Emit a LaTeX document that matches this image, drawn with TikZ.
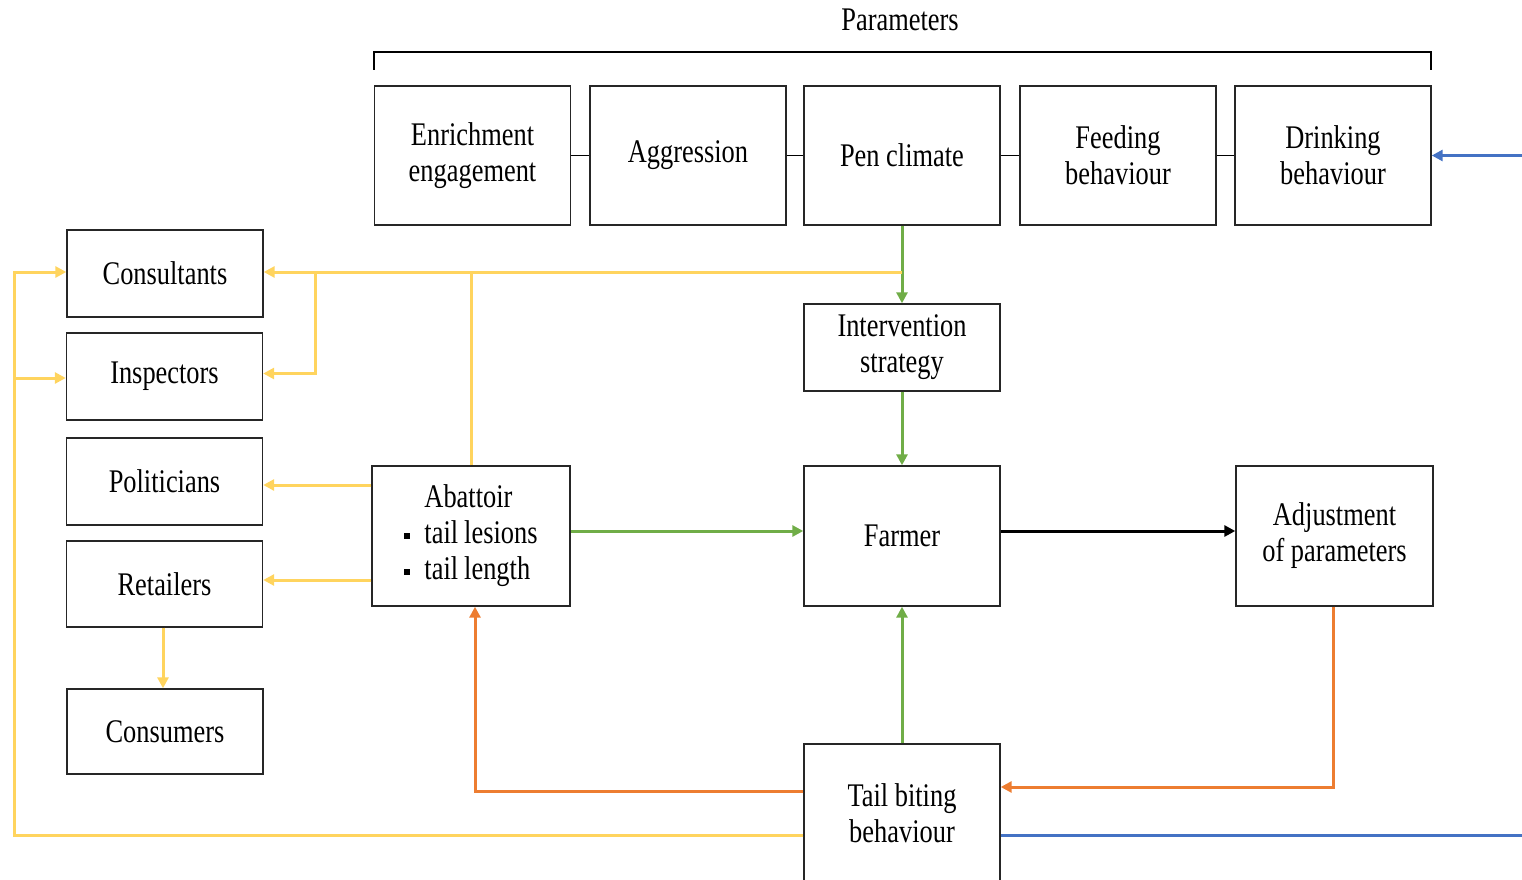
\documentclass[tikz,border=0pt]{standalone}
\usepackage{fontspec}
\setmainfont{Liberation Serif}[FakeStretch=0.8]
\usetikzlibrary{arrows.meta}
\definecolor{cyel}{HTML}{FFD45E}
\definecolor{cgrn}{HTML}{70AD47}
\definecolor{corg}{HTML}{ED7D31}
\definecolor{cblu}{HTML}{4472C4}
\tikzset{
  box/.style={draw=black!85, line width=1.4pt, minimum width=196pt, inner sep=0pt, align=center, fill=white},
  arr/.style={-{Triangle[length=11pt,width=11pt]}},
  yel/.style={draw=cyel, line width=3pt},
  grn/.style={draw=cgrn, line width=3pt},
  org/.style={draw=corg, line width=3pt},
  blu/.style={draw=cblu, line width=3pt},
  blk/.style={draw=black, line width=3pt},
  thinlink/.style={draw=black, line width=1.4pt},
}
\begin{document}
\begin{tikzpicture}[x=1pt,y=-1pt,font=\fontsize{33}{36}\selectfont]
\useasboundingbox (0,0) rectangle (1522,880);
\clip (0,0) rectangle (1522,880);

% title and bracket
\node (par) at (900,20) {Parameters};
\draw[thinlink] (374,70) -- (374,52) -- (1431,52) -- (1431,70);

% top row
\node[box, minimum height=139pt] (enr) at (472.5,155.5) {Enrichment\\engagement};
\node[box, minimum height=139pt] (agg) at (688,155.5) {Aggression};
\node[box, minimum height=139pt] (pen) at (902,155.5) {Pen climate};
\node[box, minimum height=139pt] (feed) at (1118,155.5) {Feeding\\behaviour};
\node[box, minimum height=139pt] (drink) at (1333,155.5) {Drinking\\behaviour};
\draw[thinlink] (enr.east) -- (agg.west);
\draw[thinlink] (agg.east) -- (pen.west);
\draw[thinlink] (pen.east) -- (feed.west);
\draw[thinlink] (feed.east) -- (drink.west);

% left column
\node[box, minimum height=87pt] (cons) at (165,273.5) {Consultants};
\node[box, minimum height=87pt] (insp) at (164.5,376.5) {Inspectors};
\node[box, minimum height=87pt] (pol) at (164.5,481.5) {Politicians};
\node[box, minimum height=86pt] (ret) at (164.5,584) {Retailers};
\node[box, minimum height=85pt] (consum) at (165,731.5) {Consumers};

% middle
\node[box, minimum height=87pt] (inter) at (902,347.5) {Intervention\\strategy};
\node[box, minimum width=198pt, minimum height=140pt] (abat) at (471,536)
  {\begin{tabular}{@{}l@{\hspace{14pt}}l@{}}
   & Abattoir\\
   \rule[4pt]{6pt}{6pt} & tail\hspace{6pt}lesions\\
   \rule[4pt]{6pt}{6pt} & tail\hspace{6pt}length
   \end{tabular}};
\node[box, minimum height=140pt] (farmer) at (902,536) {Farmer};
\node[box, minimum width=197pt, minimum height=140pt] (adj) at (1334.5,536) {Adjustment\\of parameters};
\node[box, minimum height=138pt] (tail) at (902,813) {Tail biting\\behaviour};

\coordinate (bR) at (1530,835);
\coordinate (yb) at (315,272);

% green
\draw[grn,arr] (pen.south) -- (inter.north);
\draw[grn,arr] (inter.south) -- (farmer.north);
\draw[grn,arr] ([yshift=5pt]abat.east) -- ([yshift=5pt]farmer.west);
\draw[grn,arr] (tail.north) -- (farmer.south);

% black
\draw[blk,arr] ([yshift=5pt]farmer.east) -- ([yshift=5pt]adj.west);

% yellow
\draw[yel,arr] (pen.south |- yb) -- (cons.east |- yb);
\draw[yel] (abat.north) -- (abat.north |- yb);
\draw[yel,arr] (yb) |- ([yshift=3pt]insp.east);
\draw[yel,arr] ([yshift=-3.5pt]abat.west |- pol.east) -- ([yshift=-3.5pt]pol.east);
\draw[yel,arr] ([yshift=4pt]abat.west |- ret.east) -- ([yshift=4pt]ret.east);
\draw[yel,arr] ([xshift=-1.5pt]ret.south) -- ([xshift=-2pt]consum.north);
\draw[yel,arr] ([yshift=-22pt]tail.west) -| ([xshift=-52pt,yshift=1.5pt]cons.west) -- ([yshift=1.5pt]cons.west);
\draw[yel,arr] ([xshift=-51pt,yshift=-1.5pt]insp.west) -- ([yshift=-1.5pt]insp.west);

% orange
\draw[org,arr] ([yshift=22pt]tail.west) -| ([xshift=4pt]abat.south);
\draw[org,arr] ([xshift=-1.5pt]adj.south) |- ([yshift=26pt]tail.east);

% blue
\draw[blu] ([yshift=-22pt]tail.east) -- (bR);
\draw[blu,arr] (drink.east -| bR) -- (drink.east);
\end{tikzpicture}
\end{document}
